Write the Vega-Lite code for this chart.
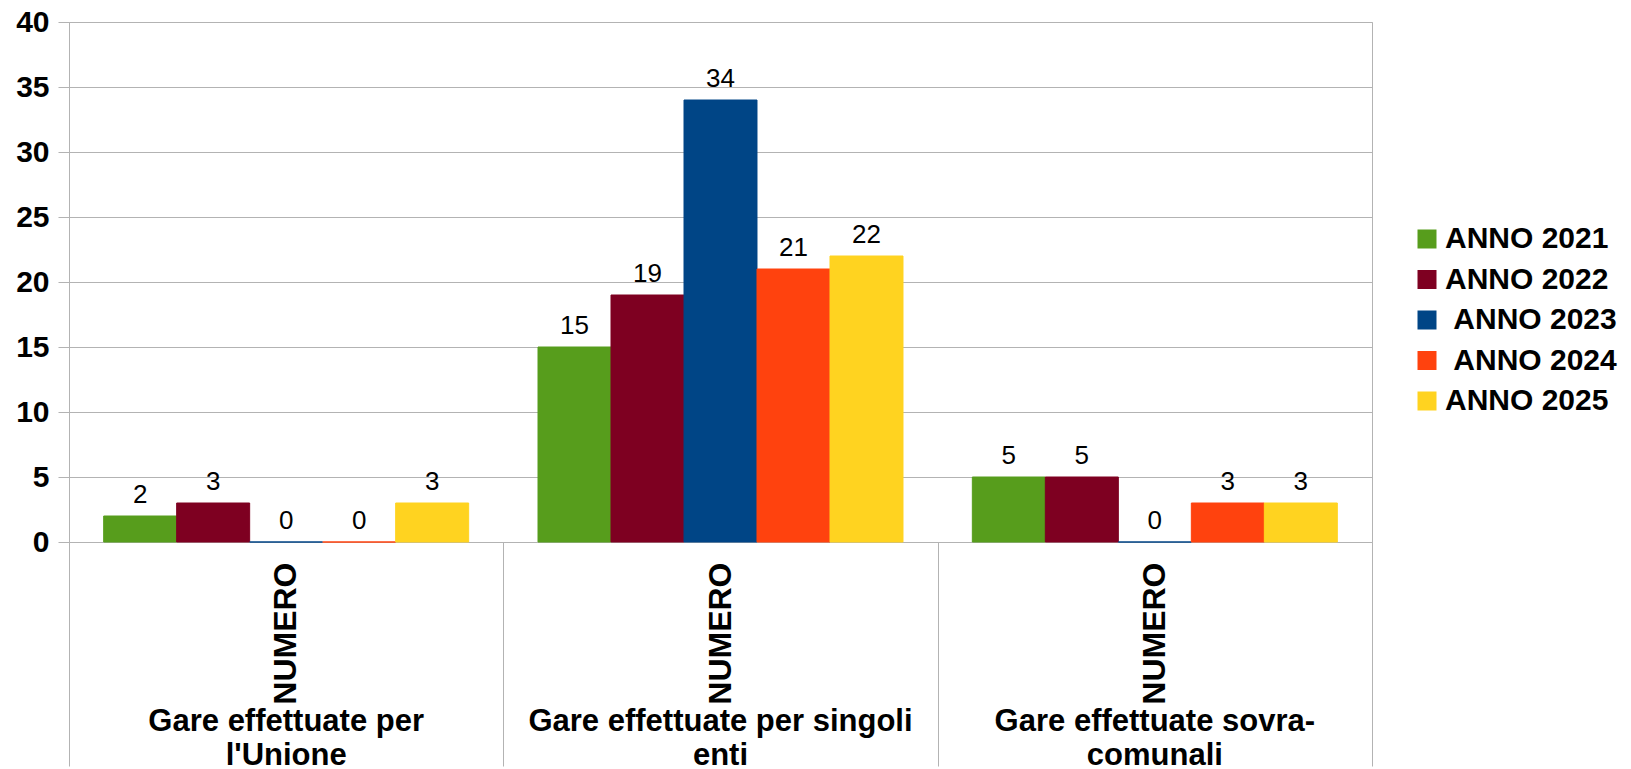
{
  "$schema": "https://vega.github.io/schema/vega-lite/v6.json",
  "width": 1303,
  "height": 520,
  "autosize": {"type": "none"},
  "padding": {"left": 69, "top": 22, "right": 259, "bottom": 227},
  "background": "white",
  "config": {"view": {"stroke": "#b3b3b3", "strokeWidth": 1}, "font": "Liberation Sans"},
  "data": {"values": [
    {"categoria": "Gare effettuate per l'Unione", "anno": "ANNO 2021", "valore": 2},
    {"categoria": "Gare effettuate per l'Unione", "anno": "ANNO 2022", "valore": 3},
    {"categoria": "Gare effettuate per l'Unione", "anno": "ANNO 2023", "valore": 0},
    {"categoria": "Gare effettuate per l'Unione", "anno": "ANNO 2024", "valore": 0},
    {"categoria": "Gare effettuate per l'Unione", "anno": "ANNO 2025", "valore": 3},
    {"categoria": "Gare effettuate per singoli enti", "anno": "ANNO 2021", "valore": 15},
    {"categoria": "Gare effettuate per singoli enti", "anno": "ANNO 2022", "valore": 19},
    {"categoria": "Gare effettuate per singoli enti", "anno": "ANNO 2023", "valore": 34},
    {"categoria": "Gare effettuate per singoli enti", "anno": "ANNO 2024", "valore": 21},
    {"categoria": "Gare effettuate per singoli enti", "anno": "ANNO 2025", "valore": 22},
    {"categoria": "Gare effettuate sovra-comunali", "anno": "ANNO 2021", "valore": 5},
    {"categoria": "Gare effettuate sovra-comunali", "anno": "ANNO 2022", "valore": 5},
    {"categoria": "Gare effettuate sovra-comunali", "anno": "ANNO 2023", "valore": 0},
    {"categoria": "Gare effettuate sovra-comunali", "anno": "ANNO 2024", "valore": 3},
    {"categoria": "Gare effettuate sovra-comunali", "anno": "ANNO 2025", "valore": 3}
  ]},
  "encoding": {
    "xOffset": {"field": "anno", "type": "nominal", "sort": ["ANNO 2021", "ANNO 2022", "ANNO 2023", "ANNO 2024", "ANNO 2025"], "scale": {"paddingInner": 0, "paddingOuter": 0.475}},
    "y": {
      "field": "valore", "type": "quantitative",
      "scale": {"domain": [0, 40]},
      "axis": {
        "title": null, "values": [0, 5, 10, 15, 20, 25, 30, 35, 40],
        "grid": true, "gridColor": "#b3b3b3", "domainColor": "#b3b3b3", "tickColor": "#b3b3b3",
        "tickSize": 11, "labelFontSize": 30, "labelFontWeight": "bold", "labelColor": "black",
        "labelPadding": 9, "labelFont": "Liberation Sans"
      }
    }
  },
  "layer": [
    {
      "mark": {"type": "bar", "strokeWidth": 1},
      "encoding": {
        "x": {
          "field": "categoria", "type": "nominal",
          "sort": ["Gare effettuate per l'Unione", "Gare effettuate per singoli enti", "Gare effettuate sovra-comunali"],
          "scale": {"paddingInner": 0, "paddingOuter": 0},
          "axis": {
            "orient": "bottom",
            "title": null, "labelExpr": "'NUMERO'", "labelAngle": -90, "labelFontSize": 32,
            "labelFontWeight": "bold", "labelColor": "black", "labelFont": "Liberation Sans",
            "ticks": false, "domain": false, "grid": false, "labelPadding": 20, "labelLimit": 400
          }
        },
        "color": {
          "field": "anno", "type": "nominal",
          "scale": {"domain": ["ANNO 2021", "ANNO 2022", "ANNO 2023", "ANNO 2024", "ANNO 2025"], "range": ["#579d1c", "#7e0021", "#004586", "#ff420e", "#ffd320"]},
          "legend": {
            "title": null, "orient": "none", "legendX": 1343, "legendY": 202,
            "symbolType": "square", "symbolSize": 361, "symbolStrokeWidth": 0,
            "labelFontSize": 30, "labelFontWeight": "bold", "labelColor": "black", "labelFont": "Liberation Sans",
            "labelOffset": 3, "rowPadding": 10.5, "padding": 0, "labelLimit": 300,
            "labelExpr": "indexof(['ANNO 2023', 'ANNO 2024'], datum.label) >= 0 ? '\u200b\u00a0' + datum.label : datum.label"
          }
        },
        "stroke": {
          "field": "anno", "type": "nominal",
          "scale": {"domain": ["ANNO 2021", "ANNO 2022", "ANNO 2023", "ANNO 2024", "ANNO 2025"], "range": ["#579d1c", "#7e0021", "#004586", "#ff420e", "#ffd320"]},
          "legend": null
        }
      }
    },
    {
      "mark": {"type": "text", "baseline": "alphabetic", "dy": -13, "fontSize": 26, "font": "Liberation Sans", "color": "black"},
      "encoding": {
        "x": {
          "field": "categoria", "type": "nominal",
          "sort": ["Gare effettuate per l'Unione", "Gare effettuate per singoli enti", "Gare effettuate sovra-comunali"],
          "scale": {"paddingInner": 0, "paddingOuter": 0},
          "axis": {
            "orient": "bottom",
            "title": null, "labelAngle": 0, "labelFontSize": 31, "labelFontWeight": "bold",
            "labelColor": "black", "labelFont": "Liberation Sans", "labelLineHeight": 34, "labelLimit": 600,
            "labelBaseline": "top", "labelPadding": 164,
            "ticks": false, "domain": false, "grid": false,
            "labelExpr": "datum.value == \"Gare effettuate per l'Unione\" ? ['Gare effettuate per', \"l'Unione\"] : (datum.value == 'Gare effettuate per singoli enti' ? ['Gare effettuate per singoli', 'enti'] : ['Gare effettuate sovra-', 'comunali'])"
          }
        },
        "text": {"field": "valore", "type": "quantitative"}
      }
    },
    {
      "mark": {"type": "text", "text": ""},
      "encoding": {
        "x": {
          "field": "categoria", "type": "nominal",
          "sort": ["Gare effettuate per l'Unione", "Gare effettuate per singoli enti", "Gare effettuate sovra-comunali"],
          "scale": {"paddingInner": 0, "paddingOuter": 0},
          "axis": {
            "orient": "bottom", "title": null, "labels": false,
            "ticks": true, "tickBand": "extent", "tickSize": 224, "tickColor": "#b3b3b3",
            "domain": false, "grid": false
          }
        }
      }
    }
  ],
  "resolve": {"axis": {"x": "independent"}}
}
